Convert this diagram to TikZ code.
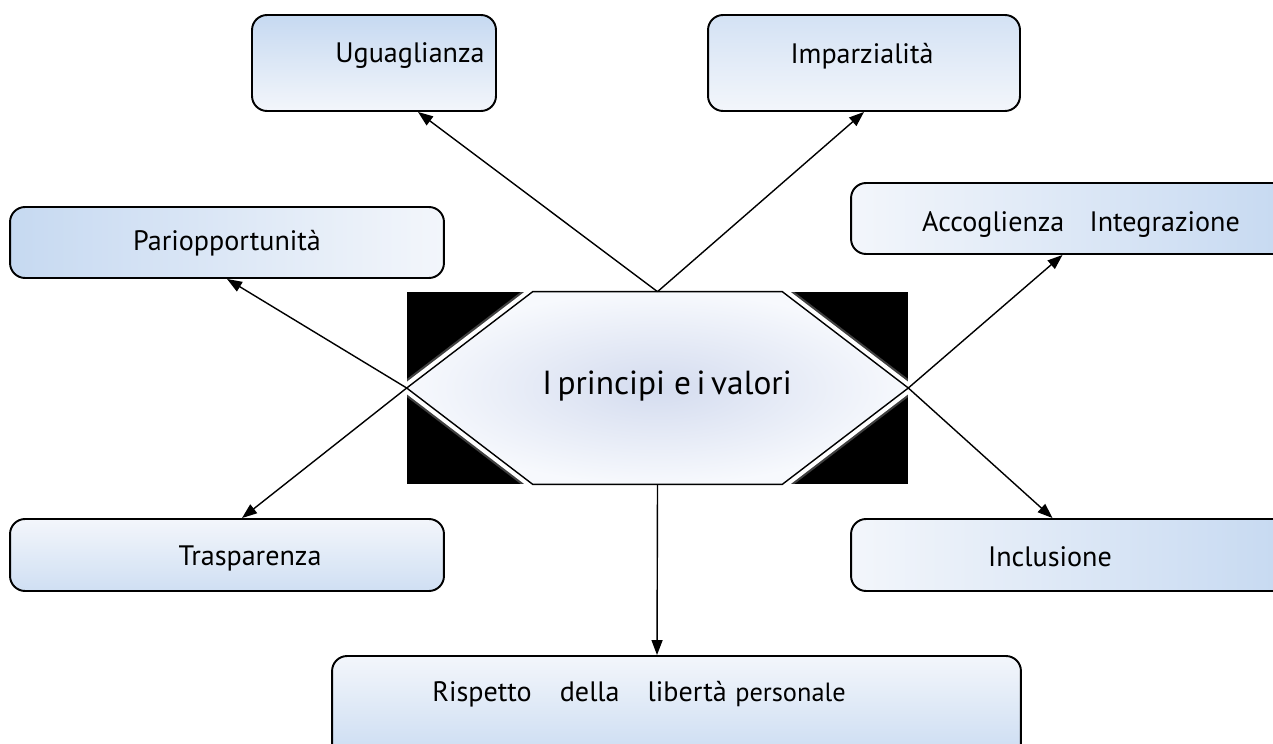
\documentclass[tikz,border=0pt]{standalone}
\usepackage{fontspec}
\setmainfont{PT Sans}
\usetikzlibrary{arrows.meta,calc}
\definecolor{boxblue}{RGB}{198,217,241}
\definecolor{boxlight}{RGB}{243,246,251}
\definecolor{hexblue}{RGB}{212,220,239}
\definecolor{hexlight}{RGB}{247,249,253}

\begin{document}
\begin{tikzpicture}[x=0.02cm, y=-0.02cm,
  box/.style={draw, line width=1.1pt, rounded corners=0.3cm, inner sep=0pt},
  lbl/.style={font=\fontsize{16}{19}\selectfont, inner sep=1pt},
  arr/.style={line width=0.8pt, -{Triangle[length=0.3cm, width=0.22cm]}}]
\useasboundingbox (0,0) rectangle (1273,743);
\fill[white] (0,0) rectangle (1273,743);

\node[fill=black, minimum width=10.02cm, minimum height=3.84cm, inner sep=0pt] (hexa) at (657.5,388) {};
\draw[white, line width=8pt, opacity=0.25] (hexa.west) -- ($(hexa.north west)+(126,0)$) -- ($(hexa.north east)+(-126,0)$) -- (hexa.east) -- ($(hexa.south east)+(-126,0)$) -- ($(hexa.south west)+(126,0)$) -- cycle;
\draw[white, line width=5.5pt] (hexa.west) -- ($(hexa.north west)+(126,0)$) -- ($(hexa.north east)+(-126,0)$) -- (hexa.east) -- ($(hexa.south east)+(-126,0)$) -- ($(hexa.south west)+(126,0)$) -- cycle;
\draw[line width=0.8pt, inner color=hexblue, outer color=hexlight] (hexa.west) -- ($(hexa.north west)+(126,0)$) -- ($(hexa.north east)+(-126,0)$) -- (hexa.east) -- ($(hexa.south east)+(-126,0)$) -- ($(hexa.south west)+(126,0)$) -- cycle;
\node[font=\fontsize{19}{22}\selectfont] (title) at (667,386) {I\,principi e\,i\,valori};

\node[box, top color=boxblue, bottom color=boxlight, minimum width=4.88cm, minimum height=1.92cm] (ugu) at (374,63) {};
\node[lbl] (ugutxt) at (410,56) {Uguaglianza};
\node[box, top color=boxblue!70!boxlight, bottom color=boxlight, minimum width=6.24cm, minimum height=1.92cm] (impar) at (864,63) {};
\node[lbl] (impartxt) at (862,56) {Imparzialità};
\node[box, left color=boxblue, right color=boxlight, minimum width=8.68cm, minimum height=1.42cm] (pari) at (227,242.5) {};
\node[lbl] (paritxt) at (227,243) {Pariopportunità};
\node[box, left color=boxlight, right color=boxblue, minimum width=8.78cm, minimum height=1.42cm] (accog) at (1070.5,218.5) {};
\node[lbl] (accogtxt) at (1081,224) {Accoglienza\hspace{0.9em}Integrazione};
\node[box, top color=boxlight, bottom color=boxblue!80!boxlight, minimum width=8.68cm, minimum height=1.44cm] (trasp) at (227,555) {};
\node[lbl] (trasptxt) at (250,558) {Trasparenza};
\node[box, left color=boxlight, right color=boxblue, minimum width=8.78cm, minimum height=1.44cm] (incl) at (1070.5,555) {};
\node[lbl] (incltxt) at (1050,557) {Inclusione};
\node[box, top color=boxlight, bottom color=boxblue, minimum width=13.78cm, minimum height=2.28cm] (risp) at (676.5,713) {};
\node[lbl] (risptxt) at (639,694) {Rispetto\hspace{1em}della\hspace{1em}libertà\hspace{0.3em}{\fontsize{15}{18}\selectfont personale}};

\draw[arr] (hexa.north) -- ($(ugu.south)+(44,0)$);
\draw[arr] (hexa.north) -- (impar.south);
\draw[arr] (hexa.west) -- (pari.south);
\draw[arr] (hexa.west) -- ($(trasp.north)+(15,0)$);
\draw[arr] (hexa.east) -- ($(accog.south)+(-8,0)$);
\draw[arr] (hexa.east) -- ($(incl.north)+(-18,0)$);
\draw[arr] (hexa.south) -- ($(risp.north)+(-19.5,0)$);
\end{tikzpicture}
\end{document}
